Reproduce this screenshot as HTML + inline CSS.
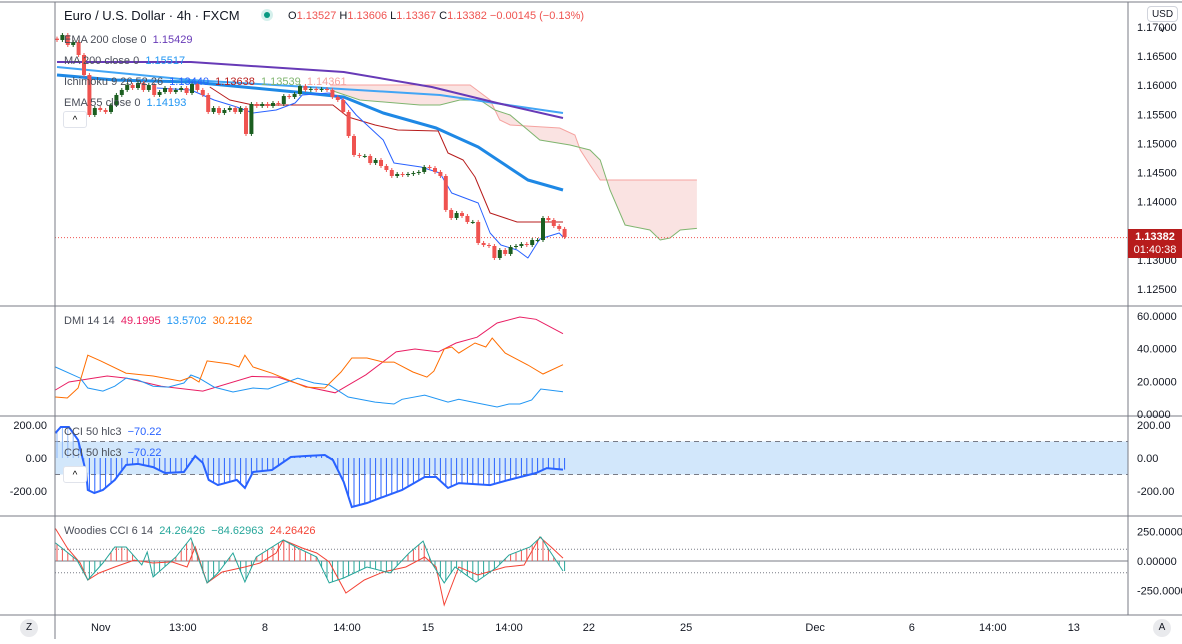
<!DOCTYPE html>
<html><head><meta charset="utf-8"><style>
body{margin:0;background:#fff;width:1182px;height:639px;overflow:hidden;font-family:"Liberation Sans",sans-serif}
svg text{font-family:"Liberation Sans",sans-serif}
</style></head><body>
<svg id="chart" width="1182" height="639" viewBox="0 0 1182 639" xmlns="http://www.w3.org/2000/svg">
<rect x="0" y="0" width="1182" height="639" fill="#fff"/>
<g id="cloud"></g><g id="lines"></g><g id="candles"></g><g id="ind"></g><g id="frame"></g><g id="labels"></g>
</svg>
<script>
// ---- data ----
const closes=[1.16777,1.16863,1.16691,1.16742,1.16519,1.16175,1.15488,1.15608,1.15574,1.1554,1.1566,1.15832,1.15918,1.16003,1.15952,1.16038,1.15918,1.16003,1.15832,1.15883,1.15952,1.15883,1.15918,1.15952,1.15866,1.16021,1.15918,1.15832,1.1554,1.15608,1.15522,1.15574,1.15608,1.1554,1.15608,1.15162,1.15677,1.15643,1.15677,1.15643,1.15694,1.15677,1.15814,1.15797,1.15849,1.15986,1.15918,1.15935,1.15918,1.15935,1.15918,1.15797,1.15746,1.1554,1.15127,1.14801,1.14784,1.14784,1.14663,1.14715,1.14612,1.14543,1.1444,1.14474,1.14457,1.14474,1.14491,1.14509,1.14595,1.14577,1.14509,1.1444,1.13856,1.13718,1.13804,1.13753,1.1365,1.1365,1.13289,1.13254,1.13237,1.13031,1.13168,1.131,1.1322,1.13237,1.13271,1.13254,1.1334,1.1334,1.13718,1.13684,1.13581,1.1353,1.13392];
const firstOpen=1.1680;
const ema200X=[0,24.8,53.1,69.4,81.5,93.7];
const ema200=[1.16399,1.16399,1.16227,1.15969,1.15694,1.15436];
const ma200X=[0,24.8,49.6,70.9,93.7];
const ma200=[1.16313,1.16089,1.15952,1.15832,1.15522];
const ema55X=[0,10.7,24.8,46.1,53.1,60.4,70.2,78,87.2,93.7];
const ema55=[1.16175,1.16089,1.16055,1.15866,1.15797,1.15522,1.15265,1.14938,1.14371,1.14199];
const convX=[18.5,24.8,29.1,33.3,36.3,40.6,44.1,45.4,50.4,53.1,55.4,60.4,62.4,67.4,70.9,73.1,78,80.2,82.2,85.2,87.2,89.4,93,93.7];
const conv=[1.15952,1.15918,1.15746,1.15625,1.15522,1.15574,1.15694,1.15832,1.15866,1.15746,1.15488,1.15058,1.14663,1.14595,1.14491,1.14148,1.13976,1.1346,1.13254,1.13168,1.13031,1.13357,1.1346,1.13392];
const baseX=[28.3,32,36.3,51.1,53.9,58.9,63.1,70.6,72.4,75.2,77.4,80.2,85.2,93.7];
const base=[1.15969,1.15746,1.1566,1.1566,1.15454,1.15316,1.1523,1.15213,1.14835,1.14715,1.14423,1.13804,1.13649,1.13649];
const spanBX=[50.6,76.5,80.2,82,83.9,93.1,95.9,96.9,98.7,100.6,118.5];
const spanB=[1.16003,1.16003,1.15746,1.15402,1.15316,1.15265,1.15144,1.14887,1.14629,1.14371,1.14371];
const spanAX=[50.6,56.1,67.2,70.9,74.6,78.3,81.1,83.9,89.4,95,98.7,100.6,102.4,105.2,109.8,111.7,113.5,115.4,118.5];
const spanA=[1.15918,1.15746,1.1566,1.1566,1.15746,1.15746,1.15574,1.15488,1.15058,1.14973,1.14887,1.14715,1.14199,1.13598,1.13512,1.1334,1.13374,1.13512,1.13539];
const adxX=[-0.3,2.2,9.3,12.8,19.3,27,36.1,40.9,46.5,51.5,57.2,62.8,66.3,70.6,73.9,77.8,81.5,85.7,88.7,93.7];
const adx=[14.7,19.6,23.3,22,17,14,23,22.6,16.5,13,24,38,39.8,38,43.5,47,55.7,59.4,58,49.2];
const mdiX=[-0.3,4.3,5.7,8.5,10.7,12.8,15,17.8,20.6,23.5,24.8,26.3,29.1,32.6,36.3,39.1,44.6,47.6,50.4,53.9,58.9,62.4,63.9,68.1,72.4,74.4,77.9,81.5,83.7,85.7,87.9,89.6,93.7];
const mdi=[28.8,22,15.9,14,17,22,20.8,17,16.5,19,23.9,22,16.5,13.5,15.9,15.3,22,19,17.8,10.4,7.3,6.1,9,11.6,7.3,9,6.7,4.3,6.1,6.1,8.6,15.3,13.6];
const pdiX=[-0.3,1.9,3.9,5.7,8.1,12.8,17.8,22.8,24.8,26.3,27.8,32,33.7,34.8,36.3,39.8,43.3,46.1,49.6,52.6,54.6,57.4,60.4,62.4,65.9,68.5,69.8,71.7,73.1,74.4,77.4,79.4,80.6,83,87.2,90,93.7];
const pdi=[10.4,9.8,15.9,36,32.5,25,23.3,20.2,22.6,19.6,32.5,30.6,28.8,36,28.8,25,20.2,16.5,15.9,25.7,34.3,34.3,31.8,31.8,25.7,22.6,26.3,39.8,41,37.3,43.5,41,46.5,37.3,30,24.5,30.2];
const cciX=[-0.3,0.7,2.2,3.9,5.4,5.7,6.9,8.5,10.7,12.8,15,17.8,20,23.5,25.6,27,28.1,29.8,33.3,34.8,36.3,39.8,43.3,46.1,49.6,51.1,53.1,54.6,57.4,60.4,63.9,68.1,70.2,72.4,74.4,80.2,83.7,88.7,90.7,93.7];
const cci=[151,188,188,109,-91,-194,-212,-194,-133,-42,-36,-55,-91,-85,12,-30,-133,-164,-133,-182,-85,-73,6,12,18,-12,-145,-297,-273,-236,-194,-115,-115,-182,-152,-164,-133,-91,-61,-70.2];
const turboX=[-0.3,1.9,4.3,5.7,7.8,10.7,14.3,17.8,21.3,24.1,25.6,27.8,30.6,34.8,37.6,40.6,41.9,45.4,48.1,50.4,53.5,56.9,60.4,64.6,68.1,70.2,71.7,74.4,77.9,83,86.5,89.4,91.5,93.7];
const turbo=[275,110,-17,-161,-102,-51,8,-17,-8,-51,119,-186,-93,-51,-17,68,178,110,68,-8,-271,-161,-93,-51,34,-51,-373,-51,-119,-51,-34,203,119,24.3];
const wcciX=[-0.3,3.7,5.7,8.5,10.7,12.8,15.7,16.7,17.8,22,24.8,27.8,29.8,32.6,34.8,36.9,41.9,44.6,48.1,50.4,53.1,57.4,61.7,65.2,67.8,69.4,71.7,73.7,77.6,81.5,83.7,87.6,89.6,91.5,93.7];
const wcci=[153,8,-161,-17,119,119,-34,76,-136,34,195,-186,-102,68,-178,34,178,110,34,-186,-144,-51,-102,68,169,-17,-186,-51,-178,-51,51,119,203,68,-84.6];
const priceTicks=[1.17,1.165,1.16,1.155,1.15,1.145,1.14,1.13,1.125];
const dmiTicks=[60,40,20,0];
const cciTicks=[200,0,-200];
const wTicks=[250,0,-250];
const timeLabels=["Nov","13:00","8","14:00","15","14:00","22","25","Dec","6","14:00","13"];
const timeIdx=[8.1,23.3,38.5,53.7,68.7,83.7,98.5,116.5,140.4,158.3,173.3,188.3];
const lastPrice=1.13382;

// ---- scales ----
const xb=i=>57+i*5.4;
const yP=p=>27+(1.17-p)*5820;
const yD=v=>414-v*1.633;
const yC=v=>458-v*0.165;
const yW=v=>561-v*0.118;
const NS="http://www.w3.org/2000/svg";
function mk(tag,attrs,parent){const e=document.createElementNS(NS,tag);for(const k in attrs)e.setAttribute(k,attrs[k]);parent.appendChild(e);return e;}
function pts(X,V,fy){return X.map((x,i)=>xb(x).toFixed(1)+","+fy(V[i]).toFixed(1)).join(" ");}
function interp(X,V,t){if(t<=X[0])return V[0];for(let i=1;i<X.length;i++){if(t<=X[i]){const f=(t-X[i-1])/(X[i]-X[i-1]);return V[i-1]+f*(V[i]-V[i-1]);}}return V[V.length-1];}
const G=id=>document.getElementById(id);

// cloud
{const poly=pts(spanBX,spanB,yP)+" "+spanAX.slice().reverse().map((x,k)=>{const i=spanAX.length-1-k;return xb(x).toFixed(1)+","+yP(spanA[i]).toFixed(1);}).join(" ");
const c=mk("polygon",{points:poly,fill:"#f8d7d5","fill-opacity":"0.7"},G("cloud"));


const b=mk("polyline",{points:pts(spanBX,spanB,yP),fill:"none",stroke:"#f5a3a0","stroke-width":1},G("cloud"));


const a=mk("polyline",{points:pts(spanAX,spanA,yP),fill:"none",stroke:"#7fb56f","stroke-width":1},G("cloud"));

}

// moving average lines
[[ma200X,ma200,"#42a5f5",2,"ma200-line"],[ema200X,ema200,"#673ab7",2,"ema200-line"],[ema55X,ema55,"#1e88e5",3,"ema55-line"],[baseX,base,"#b71c1c",1,"ichimoku-base-line"],[convX,conv,"#2962ff",1,"ichimoku-conversion-line"]].forEach(d=>{
const l=mk("polyline",{points:pts(d[0],d[1],yP),fill:"none",stroke:d[2],"stroke-width":d[3],"stroke-linejoin":"round"},G("lines"));

});

// candles
closes.forEach((c,i)=>{const o=i?closes[i-1]:firstOpen;const up=c>=o;const col=up?"#1b5e20":"#ef5350";
const x=xb(i);const y1=yP(Math.max(o,c)),y2=yP(Math.min(o,c));
const w=mk("line",{x1:x,x2:x,y1:y1-2,y2:y2+2,stroke:col,"stroke-width":1},G("candles"));


const r=mk("rect",{x:x-2,y:y1,width:4,height:Math.max(1,y2-y1),fill:col},G("candles"));

});
{const pl=mk("line",{x1:55,x2:1128,y1:yP(lastPrice),y2:yP(lastPrice),stroke:"#ef5350","stroke-width":1,"stroke-dasharray":"1,2"},G("lines"));

}

// DMI
[[adxX,adx,"#e91e63","dmi-adx-line"],[mdiX,mdi,"#2196f3","dmi-minus-di-line"],[pdiX,pdi,"#ff6d00","dmi-plus-di-line"]].forEach(d=>{
const l=mk("polyline",{points:pts(d[0],d[1],yD),fill:"none",stroke:d[2],"stroke-width":1},G("ind"));

});

// CCI band + hist + line
{const band=mk("rect",{x:55,y:yC(100),width:1073,height:yC(-100)-yC(100),fill:"#d2e7fb"},G("ind"));


[100,-100].forEach(v=>{const d=mk("line",{x1:55,x2:1128,y1:yC(v),y2:yC(v),stroke:"#787b86","stroke-dasharray":"5,4"},G("ind"));

});
for(let i=0;i<=94;i++){const v=interp(cciX,cci,i);const h=mk("line",{x1:xb(i),x2:xb(i),y1:yC(0),y2:yC(v),stroke:i<6?"#90b8f8":"#2962ff","stroke-width":1},G("ind"));

}
const l=mk("polyline",{points:pts(cciX,cci,yC),fill:"none",stroke:"#2962ff","stroke-width":2},G("ind"));

}

// Woodies
{[100,-100].forEach(v=>{const d=mk("line",{x1:55,x2:1128,y1:yW(v),y2:yW(v),stroke:"#787b86","stroke-dasharray":"1,2"},G("ind"));

});
const z=mk("line",{x1:55,x2:1128,y1:yW(0),y2:yW(0),stroke:"#787b86"},G("ind"));


for(let i=0;i<=94;i++){const v=interp(wcciX,wcci,i);const h=mk("line",{x1:xb(i),x2:xb(i),y1:yW(0),y2:yW(v),stroke:v>=0?"#ef5350":"#26a69a","stroke-width":1},G("ind"));

}
const t=mk("polyline",{points:pts(turboX,turbo,yW),fill:"none",stroke:"#f44336","stroke-width":1},G("ind"));


const w=mk("polyline",{points:pts(wcciX,wcci,yW),fill:"none",stroke:"#26a69a","stroke-width":1},G("ind"));

}

// frame
[[0,2,1182,2],[55,2,55,639],[1128,2,1128,615],[0,306,1182,306],[0,416,1182,416],[0,516,1182,516],[0,615,1182,615]].forEach(s=>{
const l=mk("line",{x1:s[0],y1:s[1],x2:s[2],y2:s[3],stroke:"#787b86","stroke-width":1},G("frame"));

});

// axis labels
function txt(s,x,y,attrs,name,inter){const t=mk("text",Object.assign({x:x,y:y,"font-size":11,fill:"#131722"},attrs||{}),G("labels"));t.textContent=s;

return t;}
priceTicks.forEach(p=>txt(p.toFixed(5),1137,yP(p)+4,{},"price-tick-label"));
dmiTicks.forEach(v=>txt(v.toFixed(4),1137,yD(v)+4,{},"dmi-tick-label"));
cciTicks.forEach(v=>{txt(v.toFixed(2),1137,yC(v)+4,{},"cci-tick-label");txt(v.toFixed(2),47,yC(v)+4,{"text-anchor":"end"},"cci-left-tick-label");});
wTicks.forEach(v=>txt(v.toFixed(5),1137,yW(v)+4,{},"woodies-tick-label"));
timeLabels.forEach((s,i)=>txt(s,xb(timeIdx[i]),631,{"text-anchor":"middle","font-size":11},"time-tick-label"));
</script>
<div style="position:absolute;left:1128px;top:229px;width:54px;height:29px;background:#b71c1c;color:#fff;font:11px 'Liberation Sans',sans-serif;line-height:13px;text-align:center;padding-top:2px;box-sizing:border-box"><b>1.13382</b><br>01:40:38</div>
<div style="position:absolute;left:1147px;top:6px;width:31px;height:16px;border:1px solid #d1d4dc;border-radius:4px;background:#fff;font:10px 'Liberation Sans',sans-serif;line-height:16px;text-align:center;color:#131722;box-sizing:border-box">USD ˅</div>
<div style="position:absolute;left:64px;top:8px;font:13px 'Liberation Sans',sans-serif;color:#131722">Euro / U.S. Dollar · 4h · FXCM</div>
<div style="position:absolute;left:261px;top:9px;width:12px;height:12px;border-radius:6px;background:#d5f0ec"><div style="margin:3px;width:6px;height:6px;border-radius:3px;background:#089981"></div></div>
<div style="position:absolute;left:288px;top:10px;font:11px 'Liberation Sans',sans-serif;color:#ef5350;white-space:nowrap"><span style="color:#131722">O</span>1.13527 <span style="color:#131722">H</span>1.13606 <span style="color:#131722">L</span>1.13367 <span style="color:#131722">C</span>1.13382 −0.00145 (−0.13%)</div>
<div style="position:absolute;left:64px;top:30px;font:11px 'Liberation Sans',sans-serif;color:#4a4e59;line-height:21px;white-space:nowrap">
<div>EMA 200 close 0 &nbsp;<span style="color:#673ab7">1.15429</span></div>
<div>MA 200 close 0 &nbsp;<span style="color:#2196f3">1.15517</span></div>
<div>Ichimoku 9 26 52 26 &nbsp;<span style="color:#2962ff">1.13440</span> &nbsp;<span style="color:#b71c1c">1.13638</span> &nbsp;<span style="color:#7fb56f">1.13539</span> &nbsp;<span style="color:#f5a3a0">1.14361</span></div>
<div>EMA 55 close 0 &nbsp;<span style="color:#2196f3">1.14193</span></div></div>
<div style="position:absolute;left:63px;top:111px;width:24px;height:17px;border:1px solid #e0e3eb;border-radius:3px;background:#fff;font:10px 'Liberation Sans',sans-serif;text-align:center;line-height:17px;box-sizing:border-box">^</div>
<div style="position:absolute;left:64px;top:315px;font:11px 'Liberation Sans',sans-serif;color:#4a4e59;white-space:nowrap">DMI 14 14 &nbsp;<span style="color:#e91e63">49.1995</span> &nbsp;<span style="color:#2196f3">13.5702</span> &nbsp;<span style="color:#ff6d00">30.2162</span></div>
<div style="position:absolute;left:64px;top:426px;font:11px 'Liberation Sans',sans-serif;color:#4a4e59;white-space:nowrap">CCI 50 hlc3 &nbsp;<span style="color:#2962ff">−70.22</span></div>
<div style="position:absolute;left:64px;top:447px;font:11px 'Liberation Sans',sans-serif;color:#4a4e59;white-space:nowrap">CCI 50 hlc3 &nbsp;<span style="color:#2962ff">−70.22</span></div>
<div style="position:absolute;left:63px;top:466px;width:24px;height:17px;border:1px solid #e0e3eb;border-radius:3px;background:#fff;font:10px 'Liberation Sans',sans-serif;text-align:center;line-height:17px;box-sizing:border-box">^</div>
<div style="position:absolute;left:64px;top:525px;font:11px 'Liberation Sans',sans-serif;color:#4a4e59;white-space:nowrap">Woodies CCI 6 14 &nbsp;<span style="color:#26a69a">24.26426</span> &nbsp;<span style="color:#26a69a">−84.62963</span> &nbsp;<span style="color:#f44336">24.26426</span></div>
<div style="position:absolute;left:20px;top:619px;width:18px;height:18px;border-radius:9px;background:#e9eaed;font:10px 'Liberation Sans',sans-serif;text-align:center;line-height:18px;color:#131722">Z</div>
<div style="position:absolute;left:1153px;top:619px;width:18px;height:18px;border-radius:9px;background:#e9eaed;font:10px 'Liberation Sans',sans-serif;text-align:center;line-height:18px;color:#131722">A</div>
</body></html>
